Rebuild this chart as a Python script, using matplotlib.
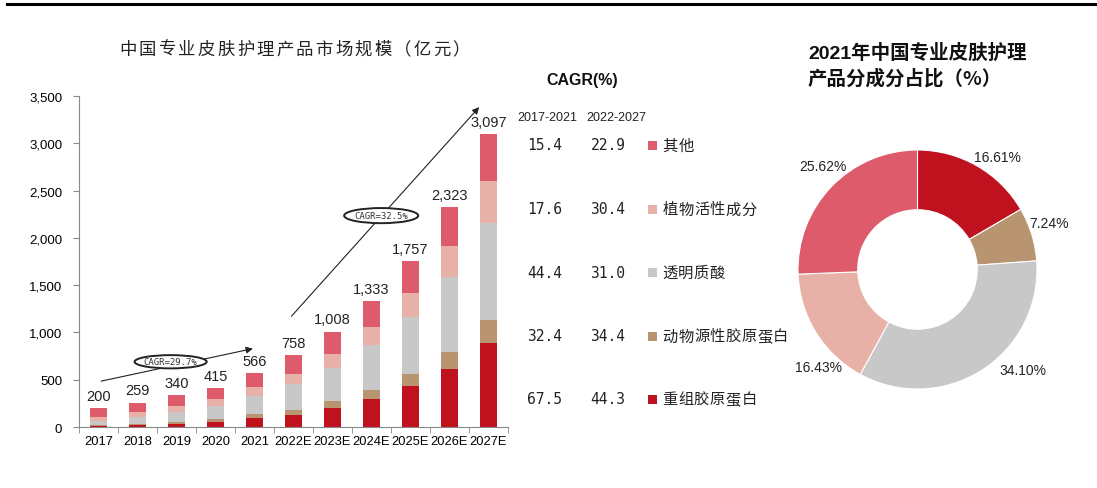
import matplotlib.pyplot as plt
from matplotlib.patches import Ellipse
import numpy as np

plt.rcParams['font.family'] = ['Liberation Sans', 'Noto Sans CJK SC', 'DejaVu Sans']

# data (亿元)
years = ['2017', '2018', '2019', '2020', '2021', '2022E', '2023E',
         '2024E', '2025E', '2026E', '2027E']
totals = [200, 259, 340, 415, 566, 758, 1008, 1333, 1757, 2323, 3097]
chongzu = [8, 19, 32, 52, 94, 131, 201, 296, 430, 613, 892]
dongwu = [12, 17, 26, 32, 41, 49, 78, 99, 134, 180, 239]
touming = [42, 65, 96, 134, 193, 271, 349, 469, 599, 796, 1022]
zhiwu = [47, 57, 66, 74, 93, 113, 144, 190, 258, 328, 444]
qita = [91, 101, 120, 123, 145, 194, 236, 279, 336, 406, 500]

names = ['重组胶原蛋白', '动物源性胶原蛋白', '透明质酸', '植物活性成分', '其他']
colors = ['#C0111E', '#B89470', '#C8C8C8', '#E8B1A7', '#DD5B6B']
cagr_1721 = [67.5, 32.4, 44.4, 17.6, 15.4]
cagr_2227 = [44.3, 34.4, 31.0, 30.4, 22.9]

share_2021 = [16.61, 7.24, 34.10, 16.43, 25.62]

bar_title = '中国专业皮肤护理产品市场规模（亿元）'


def fx(px):
    return px / 1097


def fy(py):
    return 1 - py / 489


fig = plt.figure(figsize=(10.97, 4.89), dpi=100)

# top rule
fig.add_artist(plt.Line2D([0.006, 0.998], [0.989, 0.989], color='black', lw=2.2))

# ---- stacked bars ----
ax = fig.add_axes([0.072, 0.1247, 0.391, 0.677])
x = np.arange(len(years))
bottom = np.zeros(len(years))
for vals, c in zip([chongzu, dongwu, touming, zhiwu, qita], colors):
    ax.bar(x, vals, 0.42, bottom=bottom, color=c, edgecolor='none')
    bottom += np.array(vals)

for xi, t in zip(x, totals):
    ax.text(xi, t + 55, f'{t:,}', ha='center', va='bottom', fontsize=10.5, color='#222222')

ax.set_xlim(-0.5, len(years) - 0.5)
ax.set_ylim(0, 3500)
ax.set_yticks(np.arange(0, 3501, 500))
ax.set_yticklabels([f'{v:,}' for v in range(0, 3501, 500)], fontsize=9.5)
ax.set_xticks(x)
ax.set_xticklabels(years, fontsize=9.3)
ax.set_xticks(np.arange(-0.5, len(years), 1), minor=True)
ax.tick_params(axis='x', which='major', length=0, pad=6)
ax.tick_params(axis='x', which='minor', length=4, color='#888888')
ax.tick_params(axis='y', length=4, color='#888888', pad=8)
for s in ['top', 'right']:
    ax.spines[s].set_visible(False)
for s in ['left', 'bottom']:
    ax.spines[s].set_color('#888888')

# CAGR arrows
ax.annotate('', xy=(4.03, 835), xytext=(0, 479),
            arrowprops=dict(arrowstyle='-|>', color='#222222', lw=0.8, mutation_scale=10))
ax.annotate('', xy=(9.81, 3404), xytext=(4.9, 1149),
            arrowprops=dict(arrowstyle='-|>', color='#222222', lw=0.8, mutation_scale=10))
ax.add_patch(Ellipse((1.85, 690), 1.85, 140, facecolor='white', edgecolor='#222222', lw=1.4, zorder=5))
ax.text(1.85, 690, 'CAGR=29.7%', ha='center', va='center', fontsize=6.5, zorder=6,
        family=['DejaVu Sans Mono'], color='#333333')
ax.add_patch(Ellipse((7.25, 2235), 1.9, 160, facecolor='white', edgecolor='#222222', lw=1.4, zorder=5))
ax.text(7.25, 2235, 'CAGR=32.5%', ha='center', va='center', fontsize=6.5, zorder=6,
        family=['DejaVu Sans Mono'], color='#333333')

# spaced title, one glyph at a time
for i, ch in enumerate(bar_title):
    fig.text(fx(128 + i * 19.6), fy(50), ch, ha='center', va='center',
             fontsize=12.5, family=['Noto Sans CJK SC'], color='#222222')

# ---- CAGR table / legend ----
fig.text(fx(582), fy(80), 'CAGR(%)', ha='center', va='center', fontsize=11.5,
         fontweight='bold', color='#111111')
fig.text(fx(547), fy(118), '2017-2021', ha='center', va='center', fontsize=9, color='#222222')
fig.text(fx(616), fy(118), '2022-2027', ha='center', va='center', fontsize=9, color='#222222')
row_y = [400, 337, 273, 210, 146]
for name, c, a, b, ry in zip(names, colors, cagr_1721, cagr_2227, row_y):
    fig.text(fx(545), fy(ry), f'{a:.1f}', ha='center', va='center',
             fontsize=10.5, color='#222222', family=['DejaVu Sans Mono'])
    fig.text(fx(608), fy(ry), f'{b:.1f}', ha='center', va='center',
             fontsize=10.5, color='#222222', family=['DejaVu Sans Mono'])
    fig.add_artist(plt.Rectangle((fx(648), fy(ry + 4.5)), 9 / 1097, 9 / 489,
                                 facecolor=c, edgecolor='none', transform=fig.transFigure))
    for j, ch in enumerate(name):
        fig.text(fx(670 + j * 15.8), fy(ry), ch, ha='center', va='center',
                 fontsize=11, color='#222222', family=['Noto Sans CJK SC'])

# ---- donut ----
r = 119.5
cx, cy = 917.5, 270.5
axp = fig.add_axes([fx(cx - r), fy(cy + r), 2 * r / 1097, 2 * r / 489])
wedges, texts, autotexts = axp.pie(
    share_2021, colors=colors, startangle=90, counterclock=False,
    wedgeprops=dict(width=0.5, edgecolor='white', linewidth=0.8),
    autopct='%.2f%%', pctdistance=1.17, textprops=dict(fontsize=10, color='#222222'))
axp.set_xlim(-1, 1)
axp.set_ylim(-1, 1)
axp.set_aspect('equal')
autotexts[0].set_position((0.67, 0.94))
autotexts[1].set_position((1.10, 0.39))
autotexts[2].set_position((0.88, -0.84))
autotexts[3].set_position((-0.83, -0.82))
autotexts[4].set_position((-0.79, 0.87))

fig.text(fx(808), fy(53), '2021年中国专业皮肤护理', ha='left', va='center', fontsize=14,
         fontweight='bold', family=['Liberation Sans', 'Noto Sans CJK SC'], color='#111111')
fig.text(fx(808), fy(79), '产品分成分占比（%）', ha='left', va='center', fontsize=14,
         fontweight='bold', family=['Noto Sans CJK SC'], color='#111111')

fig.savefig('out.png', dpi=100)
